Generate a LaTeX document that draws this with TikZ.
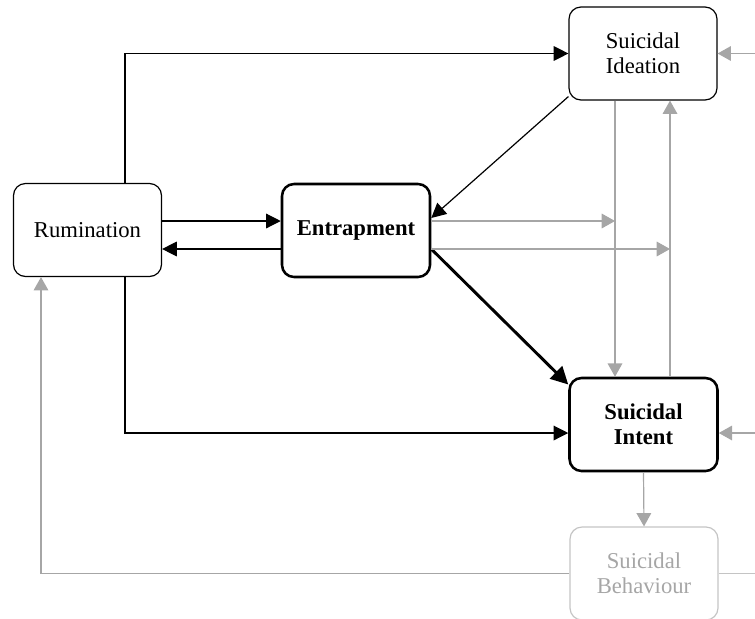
\documentclass[tikz,border=0pt]{standalone}
\usepackage{fontspec}
\setmainfont{Liberation Serif}
\usetikzlibrary{arrows.meta}
\definecolor{pathgray}{RGB}{166,166,166}
\definecolor{boxgray}{RGB}{196,196,196}

\begin{document}
\begin{tikzpicture}[x=0.75pt,y=0.75pt,yscale=-1,xscale=1,
    box/.style={draw, rounded corners=9pt, minimum width=111pt, minimum height=69.75pt, align=center, inner sep=0.75pt, line width=0.9pt, font=\fontsize{17}{19}\selectfont},
    keybox/.style={box, line width=1.9pt, font=\fontsize{17}{19}\selectfont\bfseries},
    fadebox/.style={box, draw=boxgray, text=pathgray},
    link/.style={-{Triangle[length=11pt,width=11pt]}, line width=0.9pt},
    strong/.style={-{Triangle[length=13pt,width=13pt]}, line width=2.2pt},
    faint/.style={-{Triangle[length=10pt,width=11pt]}, draw=pathgray, line width=0.9pt},
    fadeline/.style={draw=boxgray, line width=0.9pt}]
        \useasboundingbox (0,0) rectangle (755,618);
        \clip (0,0) rectangle (755,618);

        % Boxes
        \node [box] (ideation) at (643,53.5) {Suicidal\\Ideation};
        \node [box] (rumination) at (87.5,230) {Rumination};
        \node [keybox] (entrapment) at (356,230.5) {Entrapment};
        \node [keybox] (intent) at (643.5,424.5) {Suicidal\\Intent};
        \node [fadebox] (behaviour) at (644,573.5) {Suicidal\\Behaviour};

        % Bends and free ends
        \coordinate (rumtop) at (125,53.5);
        \coordinate (rumlow) at (125,433);
        \coordinate (fwd) at (0,221);
        \coordinate (back) at (0,249);
        \coordinate (hit) at (0,218);
        \coordinate (modA) at (615,221);
        \coordinate (modB) at (670,249);
        \coordinate (ideaext) at (755,53.5);
        \coordinate (intentext) at (755,433);
        \coordinate (behavext) at (755,573.5);
        \coordinate (loop) at (41,573.5);

        % Black paths
        \draw [link] (rumination.north -| rumtop) -- (rumtop) -- (ideation.west);
        \draw [link] (rumination.south -| rumlow) -- (rumlow) -- (intent.west |- rumlow);
        \draw [link] (rumination.east |- fwd) -- (entrapment.west |- fwd);
        \draw [link] (entrapment.west |- back) -- (rumination.east |- back);
        \draw [link] (ideation.210) -- (entrapment.east |- hit);
        \draw [strong] (entrapment.east |- back) -- (intent.152);

        % Grey paths
        \draw [faint] (entrapment.east |- modA) -- (modA);
        \draw [faint] (entrapment.east |- modB) -- (modB);
        \draw [faint] (ideation.south -| modA) -- (intent.north -| modA);
        \draw [faint] (intent.north -| modB) -- (ideation.south -| modB);
        \draw [faint] (ideaext) -- (ideation.east);
        \draw [faint] (intentext) -- (intent.east |- intentext);
        \draw [faint] (intent.south) -- (behaviour.north);
        \draw [faint] (behaviour.west) -- (loop) -- (rumination.south -| loop);
        \draw [fadeline] (behaviour.east) -- (behavext);
\end{tikzpicture}
\end{document}
